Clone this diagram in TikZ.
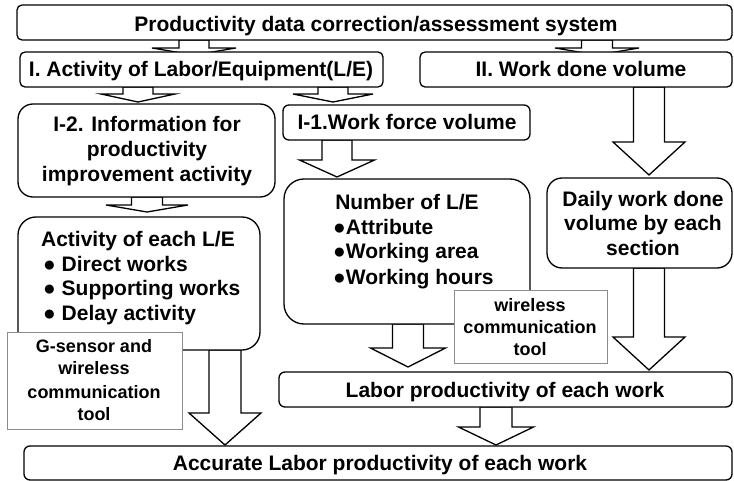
\documentclass[tikz,border=0pt]{standalone}
\usepackage{fontspec}
\setmainfont{Liberation Sans}
\usetikzlibrary{calc}
\pgfdeclarelayer{back}
\pgfdeclarelayer{bg}
\pgfsetlayers{back,bg,main}
\tikzset{
  box/.style={draw=black, line width=1.3pt, fill=white, anchor=north west, inner sep=0pt, outer sep=0pt},
  gbox/.style={draw=black!45, line width=1pt, fill=white, anchor=north west, inner sep=0pt, outer sep=0pt, sharp corners},
  blk/.style={draw=black, line width=1.3pt, fill=white, line join=miter},
  lbl/.style={font=\fontsize{21}{25}\selectfont\bfseries, anchor=base, inner sep=0pt},
  lblw/.style={lbl, anchor=base west},
  slbl/.style={font=\fontsize{18}{22}\selectfont\bfseries, anchor=base, inner sep=0pt},
}
% #1 style, #2 name, #3 x0, #4 y0, #5 width, #6 height
\newcommand\mybox[6]{\node[#1, minimum width=#5pt, minimum height=#6pt] (#2) at (#3,#4) {};}
% #1 src, #2 tgt, #3 cx, #4 head length, #5 shaft half width, #6 head half width, #7 tip offset below tgt top
\newcommand\blockarrow[7]{%
  \path[blk] let \p1=(#1.south), \p2=(#2.north),
    \n1={\y2-(#7)*1pt}, \n2={\y2-(#7)*1pt+(#4)*1pt} in
    ({(#3-#5)*1pt},\y1) -- ({(#3-#5)*1pt},{\n2*1pt}) -- ({(#3-#6)*1pt},{\n2*1pt})
    -- ({(#3)*1pt},{\n1*1pt}) -- ({(#3+#6)*1pt},{\n2*1pt}) -- ({(#3+#5)*1pt},{\n2*1pt})
    -- ({(#3+#5)*1pt},\y1) -- cycle;}
\begin{document}
\begin{tikzpicture}[x=1pt,y=-1pt]
\useasboundingbox (0,0) rectangle (734,481);
\begin{pgfonlayer}{back}
\fill[white] (0,0) rectangle (734,481);
\end{pgfonlayer}
% boxes
\mybox{box, rounded corners=5pt}{top}{17}{5}{715}{35}
\mybox{box, rounded corners=5pt}{I}{20}{52}{363}{35}
\mybox{box, rounded corners=5pt}{II}{420}{52}{312}{35}
\mybox{box, rounded corners=15pt}{I2}{18}{104}{257}{93}
\mybox{box, rounded corners=6pt}{I1}{283}{105}{247}{35}
\mybox{box, rounded corners=18pt}{act}{18}{217}{242}{133}
\mybox{box, rounded corners=20pt}{num}{284}{179}{246}{145}
\mybox{box, rounded corners=15pt}{daily}{547}{178}{185}{90}
\mybox{gbox}{wl}{454}{291}{153}{72}
\mybox{gbox}{gs}{7}{332}{175}{97}
\mybox{box, rounded corners=6pt}{labor}{279}{372}{453}{35}
\mybox{box, rounded corners=6pt}{acc}{24}{446}{708}{34}
% block arrows
\begin{pgfonlayer}{bg}
\blockarrow{top}{I}{194}{7}{15}{42}{3}
\blockarrow{top}{II}{597}{7}{15.5}{42}{3}
\blockarrow{I}{I2}{138}{8}{15}{37}{-2}
\blockarrow{I}{I1}{333}{8}{15}{40}{-3}
\blockarrow{I2}{act}{147}{7}{15.5}{41}{-5}
\blockarrow{I1}{num}{337}{17}{15}{37.5}{-2}
\blockarrow{II}{daily}{649}{33}{15.5}{36}{-3}
\blockarrow{daily}{labor}{649}{33}{15.5}{36}{-2}
\blockarrow{num}{labor}{408}{19}{15.5}{37.5}{-5}
\blockarrow{act}{acc}{225}{32}{16}{36}{-1}
\blockarrow{labor}{acc}{496}{18}{16}{37.5}{-1}
\end{pgfonlayer}
% texts
\node[lbl] (t-top) at (376,32) {Productivity data correction/assessment system};
\node[lbl] (t-I) at (201,77) {I. Activity of Labor/Equipment(L/E)};
\node[lbl] (t-II) at (581,77) {II. Work done volume};
\node[lbl] (t-I2a) at (147,132) {I-2. Information for};
\node[lbl] (t-I2b) at (147,157) {productivity};
\node[lbl] (t-I2c) at (147,182) {improvement activity};
\node[lbl] (t-I1) at (407,130) {I-1.Work force volume};
\node[lbl] (t-acth) at (138,247) {Activity of each L/E};
\node[lblw] (t-act1) at (43,272) {● Direct works};
\node[lblw] (t-act2) at (43,296) {● Supporting works};
\node[lblw] (t-act3) at (43,320) {● Delay activity};
\node[lbl] (t-numh) at (407,210) {Number of L/E};
\node[lblw] (t-num1) at (333,235) {●Attribute};
\node[lblw] (t-num2) at (333,259) {●Working area};
\node[lblw] (t-num3) at (333,284) {●Working hours};
\node[lbl] (t-da) at (643,207) {Daily work done};
\node[lbl] (t-db) at (643,231) {volume by each};
\node[lbl] (t-dc) at (643,256) {section};
\node[slbl] (t-wa) at (530,312) {wireless};
\node[slbl] (t-wb) at (530,333) {communication};
\node[slbl] (t-wc) at (530,355) {tool};
\node[slbl] (t-ga) at (94,352) {G-sensor and};
\node[slbl] (t-gb) at (94,374) {wireless};
\node[slbl] (t-gc) at (94,398) {communication};
\node[slbl] (t-gd) at (94,420) {tool};
\node[lbl] (t-lab) at (505,397) {Labor productivity of each work};
\node[lbl] (t-acc) at (380,470) {Accurate Labor productivity of each work};
\end{tikzpicture}
\end{document}
